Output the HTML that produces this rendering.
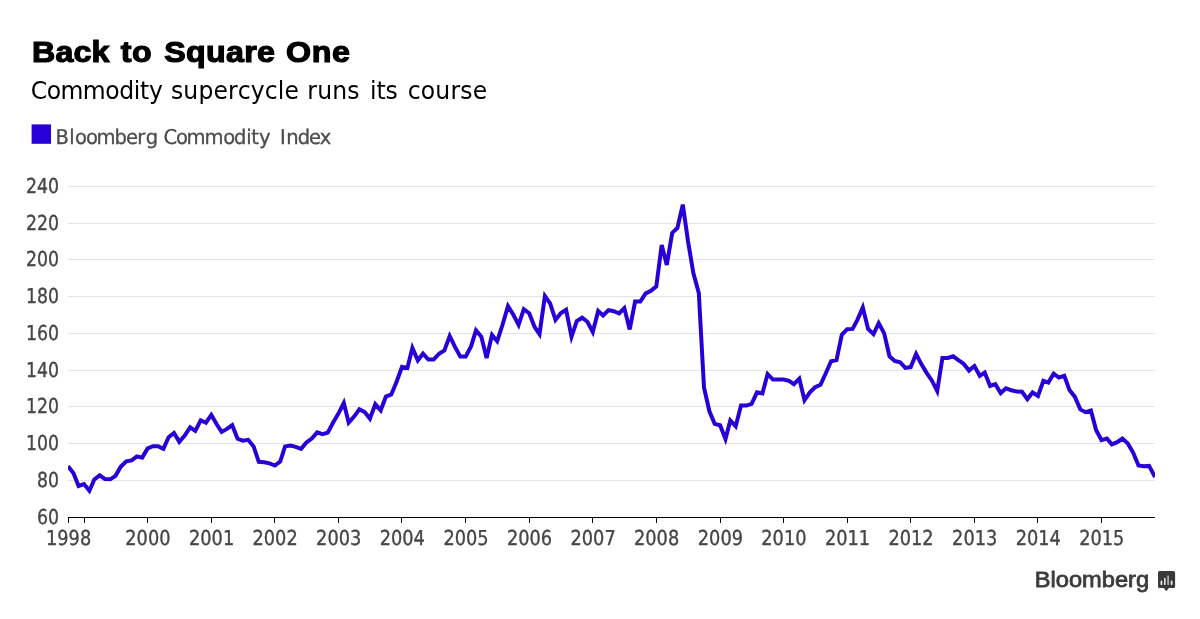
<!DOCTYPE html>
<html lang="en">
<head>
<meta charset="utf-8">
<title>Back to Square One</title>
<style>
html,body{margin:0;padding:0;background:#fff;}
body{width:1200px;height:619px;overflow:hidden;}
svg{display:block;}
.t{font-family:"Liberation Sans",Arial,Helvetica,sans-serif;font-weight:700;font-size:30.4px;fill:#000;stroke:#000;stroke-width:1.2px;stroke-linejoin:miter;}
.s{font-family:"DejaVu Sans Condensed","DejaVu Sans","Liberation Sans",sans-serif;font-stretch:condensed;font-size:25px;fill:#000;}
.l{font-family:"DejaVu Sans Condensed","DejaVu Sans","Liberation Sans",sans-serif;font-stretch:condensed;font-size:20.3px;text-rendering:geometricPrecision;fill:#4d4d4d;stroke:#4d4d4d;stroke-width:0.3px;}
.ax text{font-family:"DejaVu Sans Condensed","DejaVu Sans","Liberation Sans",sans-serif;font-stretch:condensed;font-size:20.5px;text-rendering:geometricPrecision;fill:#464646;stroke:#464646;stroke-width:0.35px;}
.grid line{stroke:#e1e5e9;stroke-width:1;shape-rendering:crispEdges;}
.tick line{stroke:#000;stroke-width:1;shape-rendering:crispEdges;}
.bb{font-family:"Liberation Sans",Arial,sans-serif;font-weight:400;font-size:22.5px;fill:#3c3c3c;stroke:#3c3c3c;stroke-width:0.8px;}
</style>
</head>
<body>
<svg width="1200" height="619" viewBox="0 0 1200 619">
<rect width="1200" height="619" fill="#fff"/>
<text class="t" transform="translate(0,62.3) scale(1.06,1)" x="30.22 52.34 69.39 86.44 103.42 113.96 124.63 143.55 154.88 175.48 194.35 213.21 230.35 242.42 259.46 269.72 294.01 313.13" y="0">Back to Square One</text>
<text class="s" transform="translate(0,99.4) scale(1.045,1)" x="29.43 44.72 57.98 79.27 100.69 114.05 128.04 134.08 142.58 155.70 163.63 175.46 189.85 204.25 218.19 227.53 240.01 253.43 265.87 272.21 286.11 294.11 303.48 317.90 332.30 344.09 353.98 360.21 369.00 380.70 390.08 402.64 416.60 431.03 440.43 452.33" y="0">Commodity supercycle runs its course</text>

<rect x="31.6" y="124.4" width="19.4" height="19.4" fill="#2800d7"/>
<text class="l" transform="translate(0,143.8) scale(1.07,1)" x="51.90 64.75 70.11 80.39 90.11 107.07 117.85 128.36 136.12 147.66 152.90 164.50 174.23 191.05 208.55 218.59 230.17 234.71 242.03 253.97 261.75 267.45 278.17 288.76 298.83" y="0">Bloomberg Commodity Index</text>

<g class="grid">
<line x1="68" x2="1155" y1="480.5" y2="480.5"/>
<line x1="68" x2="1155" y1="443.5" y2="443.5"/>
<line x1="68" x2="1155" y1="406.5" y2="406.5"/>
<line x1="68" x2="1155" y1="370.5" y2="370.5"/>
<line x1="68" x2="1155" y1="333.5" y2="333.5"/>
<line x1="68" x2="1155" y1="296.5" y2="296.5"/>
<line x1="68" x2="1155" y1="259.5" y2="259.5"/>
<line x1="68" x2="1155" y1="223.5" y2="223.5"/>
<line x1="68" x2="1155" y1="186.5" y2="186.5"/>
</g>
<g class="ax">
<text transform="translate(59.1,524)" text-anchor="end" textLength="22.0" lengthAdjust="spacingAndGlyphs">60</text>
<text transform="translate(59.1,487)" text-anchor="end" textLength="22.0" lengthAdjust="spacingAndGlyphs">80</text>
<text transform="translate(59.1,450)" text-anchor="end" textLength="33.0" lengthAdjust="spacingAndGlyphs">100</text>
<text transform="translate(59.1,413)" text-anchor="end" textLength="33.0" lengthAdjust="spacingAndGlyphs">120</text>
<text transform="translate(59.1,377)" text-anchor="end" textLength="33.0" lengthAdjust="spacingAndGlyphs">140</text>
<text transform="translate(59.1,340)" text-anchor="end" textLength="33.0" lengthAdjust="spacingAndGlyphs">160</text>
<text transform="translate(59.1,303)" text-anchor="end" textLength="33.0" lengthAdjust="spacingAndGlyphs">180</text>
<text transform="translate(59.1,266)" text-anchor="end" textLength="33.0" lengthAdjust="spacingAndGlyphs">200</text>
<text transform="translate(59.1,230)" text-anchor="end" textLength="33.0" lengthAdjust="spacingAndGlyphs">220</text>
<text transform="translate(59.1,193)" text-anchor="end" textLength="33.0" lengthAdjust="spacingAndGlyphs">240</text>
<text transform="translate(147.9,545)" text-anchor="middle" textLength="45.2" lengthAdjust="spacingAndGlyphs">2000</text>
<text transform="translate(211.6,545)" text-anchor="middle" textLength="45.2" lengthAdjust="spacingAndGlyphs">2001</text>
<text transform="translate(275.1,545)" text-anchor="middle" textLength="45.2" lengthAdjust="spacingAndGlyphs">2002</text>
<text transform="translate(338.7,545)" text-anchor="middle" textLength="45.2" lengthAdjust="spacingAndGlyphs">2003</text>
<text transform="translate(402.3,545)" text-anchor="middle" textLength="45.2" lengthAdjust="spacingAndGlyphs">2004</text>
<text transform="translate(466.0,545)" text-anchor="middle" textLength="45.2" lengthAdjust="spacingAndGlyphs">2005</text>
<text transform="translate(529.5,545)" text-anchor="middle" textLength="45.2" lengthAdjust="spacingAndGlyphs">2006</text>
<text transform="translate(593.1,545)" text-anchor="middle" textLength="45.2" lengthAdjust="spacingAndGlyphs">2007</text>
<text transform="translate(656.6,545)" text-anchor="middle" textLength="45.2" lengthAdjust="spacingAndGlyphs">2008</text>
<text transform="translate(720.4,545)" text-anchor="middle" textLength="45.2" lengthAdjust="spacingAndGlyphs">2009</text>
<text transform="translate(783.9,545)" text-anchor="middle" textLength="45.2" lengthAdjust="spacingAndGlyphs">2010</text>
<text transform="translate(847.5,545)" text-anchor="middle" textLength="45.2" lengthAdjust="spacingAndGlyphs">2011</text>
<text transform="translate(911.0,545)" text-anchor="middle" textLength="45.2" lengthAdjust="spacingAndGlyphs">2012</text>
<text transform="translate(974.7,545)" text-anchor="middle" textLength="45.2" lengthAdjust="spacingAndGlyphs">2013</text>
<text transform="translate(1038.3,545)" text-anchor="middle" textLength="45.2" lengthAdjust="spacingAndGlyphs">2014</text>
<text transform="translate(1101.8,545)" text-anchor="middle" textLength="45.2" lengthAdjust="spacingAndGlyphs">2015</text>
<text transform="translate(68.6,545)" text-anchor="middle" textLength="45.2" lengthAdjust="spacingAndGlyphs">1998</text>
</g>
<g class="tick">
<line x1="68" x2="1155" y1="517.5" y2="517.5"/>
<line x1="84.5" x2="84.5" y1="517" y2="523"/>
<line x1="147.5" x2="147.5" y1="517" y2="523"/>
<line x1="211.5" x2="211.5" y1="517" y2="523"/>
<line x1="274.5" x2="274.5" y1="517" y2="523"/>
<line x1="338.5" x2="338.5" y1="517" y2="523"/>
<line x1="401.5" x2="401.5" y1="517" y2="523"/>
<line x1="465.5" x2="465.5" y1="517" y2="523"/>
<line x1="529.5" x2="529.5" y1="517" y2="523"/>
<line x1="592.5" x2="592.5" y1="517" y2="523"/>
<line x1="656.5" x2="656.5" y1="517" y2="523"/>
<line x1="720.5" x2="720.5" y1="517" y2="523"/>
<line x1="783.5" x2="783.5" y1="517" y2="523"/>
<line x1="847.5" x2="847.5" y1="517" y2="523"/>
<line x1="910.5" x2="910.5" y1="517" y2="523"/>
<line x1="974.5" x2="974.5" y1="517" y2="523"/>
<line x1="1037.5" x2="1037.5" y1="517" y2="523"/>
<line x1="1101.5" x2="1101.5" y1="517" y2="523"/>
<line x1="68.5" x2="68.5" y1="517" y2="523"/>
</g>
<clipPath id="cp"><rect x="68" y="150" width="1087" height="380"/></clipPath>
<polyline clip-path="url(#cp)" fill="none" stroke="#2800d7" stroke-width="4" stroke-linejoin="miter" stroke-linecap="butt" points="68.0,466.2 73.4,472.9 78.6,485.9 84.0,484.1 89.4,490.7 94.3,479.5 99.7,475.3 104.9,479.1 110.3,479.3 115.5,475.8 120.9,466.6 126.3,461.3 131.6,460.4 136.9,456.3 142.2,457.6 147.6,448.4 153.0,446.2 158.0,446.2 163.4,448.8 168.6,437.2 174.0,433.0 179.3,441.8 184.7,435.5 190.1,427.4 195.3,430.9 200.7,420.3 205.9,422.7 211.3,414.9 216.7,424.3 221.6,431.9 227.0,428.9 232.2,425.2 237.6,438.8 242.8,440.7 248.2,439.8 253.6,446.4 258.8,461.8 264.2,462.2 269.5,463.3 274.8,465.5 280.2,461.6 285.1,446.4 290.5,445.5 295.7,446.8 301.1,448.8 306.4,442.5 311.8,438.5 317.2,432.4 322.4,434.2 327.8,432.6 333.0,422.7 338.4,413.6 343.8,403.0 348.7,422.7 354.1,416.6 359.3,409.4 364.7,412.0 369.9,418.6 375.3,404.1 380.7,410.3 385.9,396.5 391.3,394.5 396.6,381.8 402.0,366.8 407.4,367.9 412.4,348.0 417.8,360.3 423.0,353.7 428.4,359.6 433.6,359.6 439.0,353.7 444.4,350.4 449.7,336.0 455.1,347.1 460.3,356.6 465.7,356.6 471.1,346.2 476.0,330.3 481.3,336.6 486.6,358.1 492.0,334.9 497.2,341.2 502.6,324.5 508.0,306.1 513.2,314.5 518.6,324.8 523.8,309.2 529.2,313.2 534.6,327.0 539.5,334.2 544.9,296.0 550.1,303.3 555.5,319.9 560.7,313.2 566.1,309.7 571.5,336.8 576.8,321.1 582.2,317.7 587.4,321.7 592.8,332.0 598.2,311.0 603.1,315.4 608.5,310.1 613.7,311.2 619.1,313.4 624.3,308.1 629.7,329.4 635.1,301.5 640.3,301.5 645.7,293.4 650.9,290.8 656.3,286.4 661.7,245.0 666.8,264.9 672.2,232.9 677.4,227.9 682.8,204.6 688.0,241.1 693.4,273.3 698.8,293.0 704.0,387.5 709.4,411.3 714.7,423.9 720.1,425.2 725.5,439.0 730.3,420.5 735.7,426.2 741.0,405.6 746.4,405.6 751.6,403.9 757.0,392.3 762.4,393.4 767.6,374.1 773.0,379.6 778.2,379.6 783.6,379.6 789.0,380.9 793.9,384.2 799.3,378.7 804.5,400.2 809.9,392.3 815.1,387.2 820.5,384.8 825.9,373.0 831.1,361.2 836.5,360.1 841.8,334.8 847.2,329.2 852.6,328.9 857.4,319.9 862.8,307.4 868.1,328.9 873.5,334.2 878.7,323.2 884.1,333.1 889.5,356.3 894.7,360.9 900.1,362.2 905.3,367.9 910.7,367.1 916.1,353.9 921.2,363.8 926.6,372.8 931.8,380.4 937.2,391.0 942.4,357.9 947.8,357.9 953.2,356.3 958.4,360.1 963.8,364.0 969.0,370.6 974.4,366.0 979.8,375.8 984.7,372.6 990.1,385.9 995.3,384.2 1000.7,393.1 1006.0,388.3 1011.4,390.3 1016.8,391.6 1022.0,391.8 1027.4,399.1 1032.6,392.5 1038.0,396.0 1043.4,380.9 1048.3,382.6 1053.7,373.7 1058.9,377.6 1064.3,375.8 1069.5,390.1 1074.9,396.9 1080.3,409.4 1085.5,412.2 1090.9,410.5 1096.1,430.0 1101.5,440.1 1106.9,438.5 1111.8,444.4 1117.2,442.2 1122.4,438.5 1127.8,443.4 1133.1,452.6 1138.5,465.5 1143.9,466.2 1149.1,465.9 1155.0,477.1"/>
<text class="bb" x="1034.8" y="587.3" textLength="114.3" lengthAdjust="spacingAndGlyphs">Bloomberg</text>
<g>
<path d="M1159.6 571h13.9a1.6 1.6 0 0 1 1.6 1.6v13.9a1.6 1.6 0 0 1-1.6 1.6h-4.6l-2.6 3.2-2.6-3.2h-4.1a1.6 1.6 0 0 1-1.6-1.6v-13.9a1.6 1.6 0 0 1 1.6-1.6z" fill="#3a3a3a"/>
<rect x="1160.6" y="580.8" width="1.6" height="4.1" fill="#ffffff"/>
<rect x="1164" y="578" width="1.6" height="6.9" fill="#e2e2e2"/>
<rect x="1167.3" y="575.6" width="1.6" height="9.3" fill="#bdbdbd"/>
<rect x="1170.8" y="580.8" width="1.6" height="4.1" fill="#ffffff"/>
</g>
</svg>
</body>
</html>
